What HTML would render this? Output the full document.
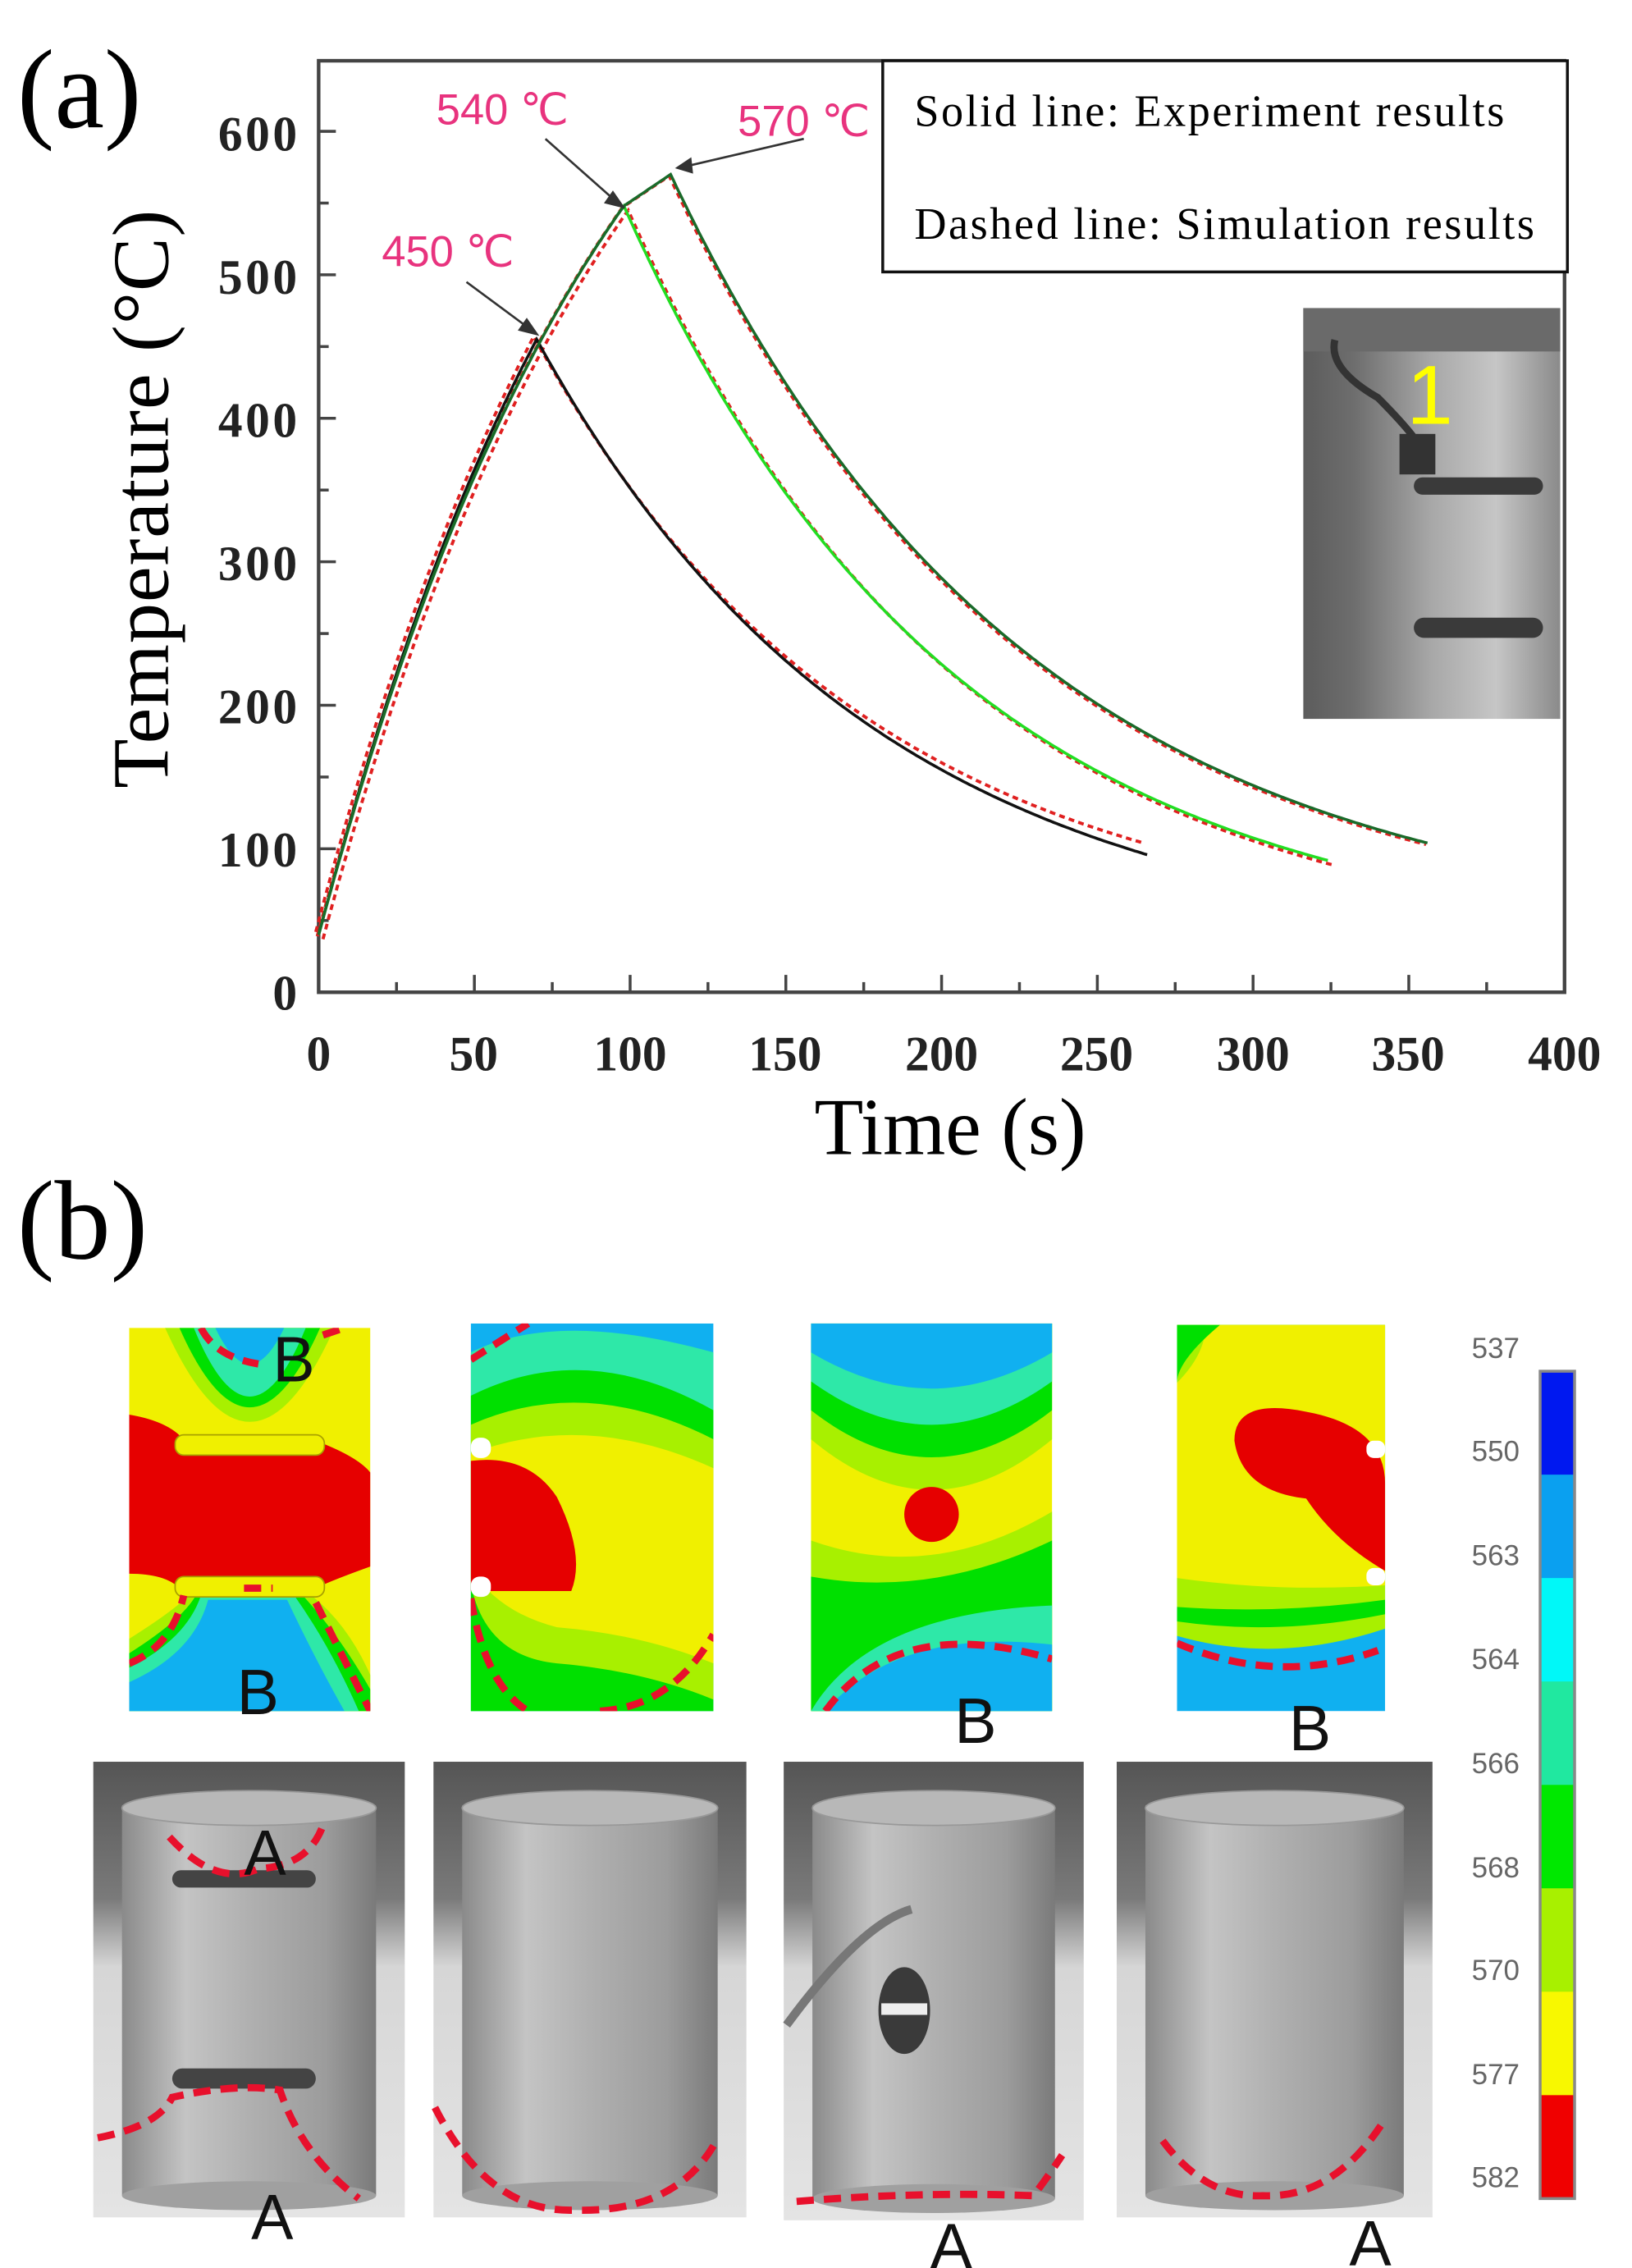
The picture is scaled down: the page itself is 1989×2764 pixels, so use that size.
<!DOCTYPE html>
<html><head><meta charset="utf-8"><style>
html,body{margin:0;padding:0;background:#fff;}
svg{display:block;}
.t{font-family:"Liberation Serif",serif;}
.s{font-family:"Liberation Sans",sans-serif;}
</style></head><body>
<svg id="svg" width="1989" height="2764" viewBox="0 0 1137 1568" preserveAspectRatio="none" xmlns="http://www.w3.org/2000/svg">
<defs>
<linearGradient id="cyl" x1="0" x2="1" y1="0" y2="0">
<stop offset="0" stop-color="#8a8a8a"/><stop offset="0.25" stop-color="#c4c4c4"/><stop offset="0.5" stop-color="#b0b0b0"/><stop offset="0.8" stop-color="#9c9c9c"/><stop offset="1" stop-color="#7a7a7a"/></linearGradient>
<linearGradient id="bg" x1="0" x2="0" y1="0" y2="1">
<stop offset="0" stop-color="#555"/><stop offset="0.3" stop-color="#7a7a7a"/><stop offset="0.45" stop-color="#d6d6d6"/><stop offset="1" stop-color="#e4e4e4"/></linearGradient>
<linearGradient id="ins" x1="0" x2="1" y1="0" y2="0">
<stop offset="0" stop-color="#5c5c5c"/><stop offset="0.2" stop-color="#6e6e6e"/><stop offset="0.5" stop-color="#a8a8a8"/><stop offset="0.75" stop-color="#c6c6c6"/><stop offset="1" stop-color="#8a8a8a"/></linearGradient>
</defs>

<text x="12" y="88" class="t" font-size="78">(a)</text>
<rect x="222" y="42" width="868" height="644" fill="none" stroke="#444" stroke-width="2.5"/>
<g id="ticks" stroke="#444" stroke-width="2"></g>
<g class="t" font-size="34" font-weight="bold" fill="#222" text-anchor="end">
<text x="207" y="698" >0</text><text x="207" y="599" textLength="55">100</text><text x="207" y="500" textLength="55">200</text><text x="207" y="401" textLength="55">300</text><text x="207" y="302" textLength="55">400</text><text x="207" y="203" textLength="55">500</text><text x="207" y="104" textLength="55">600</text>
</g>
<g class="t" font-size="34" font-weight="bold" fill="#222" text-anchor="middle">
<text x="222" y="740">0</text><text x="330" y="740">50</text><text x="439" y="740">100</text><text x="547" y="740">150</text><text x="656" y="740">200</text><text x="764" y="740">250</text><text x="873" y="740">300</text><text x="981" y="740">350</text><text x="1090" y="740">400</text>
</g>
<text x="662" y="798" class="t" font-size="56" text-anchor="middle">Time (s)</text>
<text transform="translate(117,345) rotate(-90)" class="t" font-size="56" text-anchor="middle" textLength="400">Temperature (°C)</text>

<g id="curves" fill="none"></g>

<rect x="615" y="42" width="477" height="146" fill="#fff" stroke="#111" stroke-width="2"/>
<text x="637" y="87" class="t" font-size="31" textLength="411">Solid line: Experiment results</text>
<text x="637" y="165" class="t" font-size="31" textLength="432">Dashed line: Simulation results</text>

<g class="s" font-size="30" fill="#e8337e">
<text x="266" y="184">450 ℃</text><text x="304" y="86">540 ℃</text><text x="514" y="94">570 ℃</text>
</g>
<g stroke="#333" stroke-width="1.5" fill="#333">
<line x1="325" y1="195" x2="370" y2="228"/><polygon points="374,231 362,228 367,221"/>
<line x1="380" y1="96" x2="430" y2="140"/><polygon points="434,143 422,140 427,133"/>
<line x1="560" y1="96" x2="478" y2="115"/><polygon points="472,116 481,110 482,119"/>
</g>

<rect x="908" y="213" width="179" height="284" fill="url(#ins)"/>
<rect x="908" y="213" width="179" height="30" fill="#6a6a6a"/>
<path d="M930 235 Q925 255 960 275 Q985 300 990 310" stroke="#333" stroke-width="5" fill="none"/>
<rect x="975" y="300" width="25" height="28" fill="#333"/>
<rect x="985" y="330" width="90" height="12" rx="6" fill="#3a3a3a"/>
<rect x="985" y="427" width="90" height="14" rx="7" fill="#3a3a3a"/>
<text x="980" y="293" class="s" font-size="58" fill="#ffff00">1</text>

<text x="12" y="870" class="t" font-size="78">(b)</text>

<svg x="90" y="918" width="168" height="265" viewBox="0 0 168 265">
<rect width="168" height="265" fill="#f0f000"/>
<path d="M25 0 Q84 130 143 0Z" fill="#a8f000"/>
<path d="M35 0 Q84 110 133 0Z" fill="#00e000"/>
<path d="M45 0 Q84 95 123 0Z" fill="#2ee8a8"/>
<path d="M60 0 Q84 50 108 0Z" fill="#10b0f0"/>
<path d="M0 215 Q40 190 45 180 L120 180 Q150 200 168 240 L168 265 L0 265Z" fill="#a8f000"/>
<path d="M0 225 Q40 200 48 182 L118 182 Q145 210 168 250 L168 265 L0 265Z" fill="#00e000"/>
<path d="M0 235 Q40 215 50 185 L115 185 Q140 220 160 265 L0 265Z" fill="#2ee8a8"/>
<path d="M0 245 Q45 225 55 188 L110 188 Q130 230 150 265 L0 265Z" fill="#10b0f0"/>
<path d="M0 60 Q30 65 40 80 L135 80 Q160 90 168 100 L168 165 Q140 175 130 180 L35 180 Q25 170 0 170Z" fill="#e60000"/>
<rect x="32" y="74" width="104" height="14" rx="6" fill="#f0f000" stroke="#a8a000"/>
<rect x="32" y="172" width="104" height="14" rx="6" fill="#f0f000" stroke="#a8a000"/>
<path d="M0 232 Q30 220 38 185 M80 180 L100 180 M130 190 Q150 230 168 265 M50 0 Q60 20 90 25 M135 5 L150 0" stroke="#e8102c" stroke-width="5" stroke-dasharray="12,7" fill="none"/>
</svg>
<svg x="328" y="915" width="169" height="268" viewBox="0 0 169 268">
<rect width="169" height="268" fill="#10b0f0"/>
<path d="M0 20 Q60 -10 169 20 L169 268 L0 268Z" fill="#2ee8a8"/>
<path d="M0 50 Q80 10 169 60 L169 268 L0 268Z" fill="#00e000"/>
<path d="M0 70 Q80 35 169 80 L169 260 Q120 240 60 235 Q10 230 0 180Z" fill="#a8f000"/>
<path d="M0 90 Q80 60 169 100 L169 235 Q120 215 60 210 Q20 200 0 170Z" fill="#f0f000"/>
<path d="M0 95 Q40 90 60 120 Q80 160 70 185 L0 185Z" fill="#e60000"/>
<path d="M0 25 L40 0 M0 190 Q10 250 40 268 M90 268 Q140 265 169 215" stroke="#e8102c" stroke-width="5" stroke-dasharray="12,7" fill="none"/>
<rect x="0" y="79" width="14" height="14" rx="6" fill="#fff"/><rect x="0" y="175" width="14" height="14" rx="6" fill="#fff"/>
</svg>
<svg x="565" y="915" width="168" height="268" viewBox="0 0 168 268">
<rect width="168" height="268" fill="#f0f000"/>
<path d="M0 0 L168 0 L168 80 Q84 150 0 80Z" fill="#a8f000"/>
<path d="M0 0 L168 0 L168 60 Q84 125 0 60Z" fill="#00e000"/>
<path d="M0 0 L168 0 L168 40 Q84 100 0 40Z" fill="#2ee8a8"/>
<path d="M0 0 L168 0 L168 20 Q84 70 0 20Z" fill="#10b0f0"/>
<path d="M0 268 L0 150 Q84 180 168 130 L168 268Z" fill="#a8f000"/>
<path d="M0 268 L0 175 Q84 190 168 150 L168 268Z" fill="#00e000"/>
<path d="M0 268 Q40 200 168 195 L168 268Z" fill="#2ee8a8"/>
<path d="M10 268 Q60 210 168 222 L168 268Z" fill="#10b0f0"/>
<circle cx="84" cy="132" r="19" fill="#e60000"/>
<path d="M10 268 Q60 200 168 232" stroke="#e8102c" stroke-width="5" stroke-dasharray="12,7" fill="none"/>
</svg>
<svg x="820" y="916" width="145" height="267" viewBox="0 0 145 267">
<rect width="145" height="267" fill="#10b0f0"/>
<path d="M0 0 L145 0 L145 210 Q70 235 0 215Z" fill="#a8f000"/>
<path d="M0 0 L145 0 L145 200 Q70 215 0 205Z" fill="#00e000"/>
<path d="M0 0 L145 0 L145 190 Q70 200 0 195Z" fill="#a8f000"/>
<path d="M20 0 L145 0 L145 180 Q70 185 0 175 L0 40 Q20 20 20 0Z" fill="#f0f000"/>
<path d="M0 0 L30 0 Q0 25 0 40Z" fill="#00e000"/>
<path d="M40 80 Q40 50 90 60 Q145 70 145 110 L145 170 Q110 150 90 120 Q45 115 40 80Z" fill="#e60000"/>
<path d="M0 220 Q70 250 140 225" stroke="#e8102c" stroke-width="5" stroke-dasharray="12,7" fill="none"/>
<rect x="132" y="80" width="13" height="12" rx="5" fill="#fff"/><rect x="132" y="168" width="13" height="12" rx="5" fill="#fff"/>
</svg>
<g class="s" font-size="44" fill="#111">
<text x="190" y="955">B</text><text x="165" y="1185">B</text><text x="665" y="1205">B</text><text x="898" y="1210">B</text>
</g>

<g id="photos"></g>
<g stroke="#e8102c" stroke-width="5" stroke-dasharray="12,7" fill="none">
<path d="M118 1270 Q150 1305 180 1292 Q215 1290 225 1262"/>
<path d="M68 1478 Q110 1470 120 1450 Q165 1440 195 1445 Q210 1490 250 1520"/>
<path d="M303 1457 Q340 1530 400 1528 Q470 1530 498 1482"/>
<path d="M555 1522 Q640 1515 720 1518 Q730 1505 740 1490"/>
<path d="M810 1480 Q840 1520 880 1518 Q930 1520 965 1465"/>
</g>
<g class="s" font-size="44" fill="#111">
<text x="170" y="1296">A</text><text x="175" y="1548">A</text><text x="648" y="1568">A</text><text x="940" y="1566">A</text>
</g>

<g id="cbar"></g>
<rect x="1073" y="948" width="24" height="572" fill="none" stroke="#888" stroke-width="2"/>
<g class="s" font-size="20" fill="#666" text-anchor="middle">
<text x="1042" y="939">537</text><text x="1042" y="1010">550</text><text x="1042" y="1082">563</text><text x="1042" y="1154">564</text><text x="1042" y="1226">566</text><text x="1042" y="1298">568</text><text x="1042" y="1369">570</text><text x="1042" y="1441">577</text><text x="1042" y="1512">582</text>
</g>
</svg>
<script>
var NS="http://www.w3.org/2000/svg";
function el(p,tag,a){var e=document.createElementNS(NS,tag);for(var k in a)e.setAttribute(k,a[k]);p.appendChild(e);return e;}
var X=function(t){return 222+t*2.17},Y=function(T){return 686-T*0.992};
var tk=document.getElementById('ticks');
for(var t=25;t<400;t+=25){el(tk,'line',{x1:X(t),x2:X(t),y1:686,y2:t%50?679:674});}
for(var T=50;T<650;T+=50){el(tk,'line',{x1:222,x2:T%100?229:234,y1:Y(T),y2:Y(T)});}
function curve(tp,Tp,tend,k,Ta,peakFn){var pts=[];
 for(var t=0;t<=tp;t+=1){pts.push([t,peakFn(t)]);}
 for(var t=tp;t<=tend;t+=1){pts.push([t,Ta+(Tp-Ta)*Math.exp(-k*(t-tp))]);}
 return pts;}
function d(pts,dx,dy){return 'M'+pts.map(function(p){return (X(p[0])+(dx||0)).toFixed(1)+' '+(Y(p[1])+(dy||0)).toFixed(1)}).join(' L');}
var c=document.getElementById('curves');
var blk=curve(70,455,266,0.0092,25,function(t){return 40+(415)*(1-Math.exp(-0.0099*t))/(1-Math.exp(-0.0099*70));});
var grn=curve(98,548,324,0.0094,30,function(t){return 40+508*(1-Math.exp(-0.0099*t))/(1-Math.exp(-0.0099*98));});
var dg=curve(113,570,356,0.0087,40,function(t){return t<=98?40+508*(1-Math.exp(-0.0099*t))/(1-Math.exp(-0.0099*98)):548+(t-98)*22/15;});
el(c,'path',{d:d(dg,-1,1),stroke:'#e02020','stroke-width':2.2,'stroke-dasharray':'4,3'});
el(c,'path',{d:d(grn,3,3),stroke:'#e02020','stroke-width':2.2,'stroke-dasharray':'4,3'});
el(c,'path',{d:d(blk.map(function(p){return [p[0],p[0]>70?p[1]+6*(p[0]-70)/196:p[1]]}),-2,-2),stroke:'#e02020','stroke-width':2.2,'stroke-dasharray':'4,3'});
el(c,'path',{d:d(blk),stroke:'#111','stroke-width':2});
el(c,'path',{d:d(grn),stroke:'#22dd22','stroke-width':2});
el(c,'path',{d:d(dg),stroke:'#1a6a2a','stroke-width':2});
var ph=document.getElementById('photos');
[[65,1218,217,315],[302,1218,218,315],[546,1218,209,317],[778,1218,220,315]].forEach(function(r){
 el(ph,'rect',{x:r[0],y:r[1],width:r[2],height:r[3],fill:'url(#bg)'});
 var cx=r[0]+20,cw=r[2]-40;
 el(ph,'rect',{x:cx,y:r[1]+30,width:cw,height:r[3]-45,fill:'url(#cyl)'});
 el(ph,'ellipse',{cx:cx+cw/2,cy:r[1]+32,rx:cw/2,ry:12,fill:'#b8b8b8',stroke:'#999'});
 el(ph,'ellipse',{cx:cx+cw/2,cy:r[1]+r[3]-15,rx:cw/2,ry:10,fill:'#a0a0a0'});
});
el(ph,'rect',{x:120,y:1293,width:100,height:12,rx:6,fill:'#444'});
el(ph,'rect',{x:120,y:1430,width:100,height:14,rx:7,fill:'#444'});
el(ph,'ellipse',{cx:630,cy:1390,rx:18,ry:30,fill:'#3a3a3a'});
el(ph,'rect',{x:614,y:1385,width:32,height:8,fill:'#eee'});
el(ph,'path',{d:'M548 1400 Q600 1330 635 1320',stroke:'#777','stroke-width':6,fill:'none'});
var cb=document.getElementById('cbar');
['#0018f0','#0aa0f0','#00f8f8','#20e8a0','#00e800','#a8f000','#f8f800','#f00000'].forEach(function(col,i){
 el(cb,'rect',{x:1073,y:948+i*71.5,width:24,height:72,fill:col});});
</script>
</body></html>
